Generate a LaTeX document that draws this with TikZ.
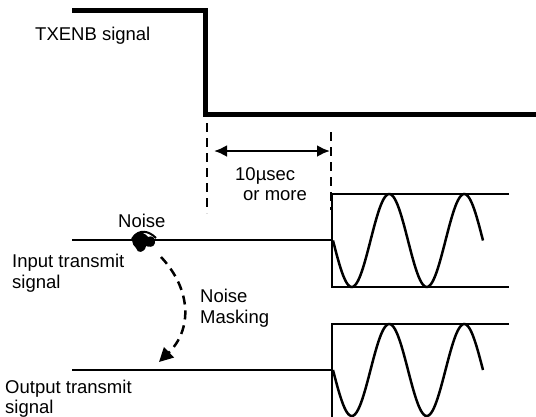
\documentclass[tikz,border=0pt]{standalone}
\usepackage{fontspec}
\setmainfont{Liberation Sans}
\usetikzlibrary{arrows.meta}
\begin{document}
\begin{tikzpicture}[x=1pt,y=-1pt,
  lbl/.style={anchor=base west,inner sep=0pt,font=\fontsize{18.5}{21}\selectfont},
  thin/.style={line width=2.5pt},
  thick/.style={line width=5pt},
  dashv/.style={line width=2.5pt,dash pattern=on 9pt off 6pt},
  wave/.style={line width=2.5pt}]
\useasboundingbox (0,0) rectangle (536,416);
% TXENB signal
\coordinate (t0) at (72,10);
\coordinate (t1) at (205,10);
\coordinate (t2) at (205,114.5);
\coordinate (t3) at (540,114.5);
\draw[thick,line join=miter] (t0) -- (t1) -- (t2) -- (t3);
\node[lbl] (txenb) at (35,40) {TXENB signal};
% dashed markers and interval arrow
\coordinate (d1a) at (207,123);
\coordinate (d1b) at (207,213);
\coordinate (d2a) at (331,132);
\coordinate (d2b) at (331,210);
\draw[dashv] (d1a) -- (d1b);
\draw[dashv] (d2a) -- (d2b);
\coordinate (a1) at (214,151);
\coordinate (a2) at (330,151);
\draw[line width=2.5pt,{Latex[length=13pt,width=12pt]}-{Latex[length=13pt,width=12pt]}] (a1) -- (a2);
\node[lbl] (t10) at (235,180) {10µsec};
\node[lbl] (tmore) at (243,200) {or more};
% input transmit signal
\coordinate (i0) at (72,240);
\coordinate (i1) at (332,240);
\draw[thin] (i0) -- (i1);
\coordinate (ib1) at (332,194);
\coordinate (ib2) at (332,287);
\coordinate (it) at (509,194);
\coordinate (ib) at (509,287);
\draw[thin] (it) -- (ib1) -- (ib2) -- (ib);
\draw[wave] plot[domain=0:150,samples=120,smooth] ({333+\x},{240.5+46.5*sin(\x*4.8)});
\node[lbl] (noise) at (118,227) {Noise};
\node[lbl] (inp1) at (12,267) {Input transmit};
\node[lbl] (inp2) at (12,288) {signal};
% noise scribble
\coordinate (nz) at (143,242);
\fill ([shift={(-8,-8)}]nz) .. controls ([shift={(-3,-12)}]nz) and ([shift={(3,-8)}]nz) .. ([shift={(5,-5)}]nz)
  .. controls ([shift={(9,-7)}]nz) and ([shift={(13,-4)}]nz) .. ([shift={(12,1)}]nz)
  .. controls ([shift={(11,6)}]nz) and ([shift={(5,5)}]nz) .. ([shift={(3,4)}]nz)
  .. controls ([shift={(2,11)}]nz) and ([shift={(-6,12)}]nz) .. ([shift={(-7,6)}]nz)
  .. controls ([shift={(-12,2)}]nz) and ([shift={(-12,-5)}]nz) .. ([shift={(-8,-8)}]nz);
\draw[line width=2pt] ([shift={(-11,-3)}]nz) .. controls ([shift={(-4,-14)}]nz) and ([shift={(6,-11)}]nz) .. ([shift={(13,-4)}]nz);
% noise masking arrow
\coordinate (m0) at (161,257);
\coordinate (m1) at (159,362);
\draw[line width=2.5pt,dash pattern=on 9pt off 6pt,-{Triangle[length=14pt,width=14pt]}] (m0) .. controls (192,290) and (192,330) .. (m1);
\node[lbl] (nm1) at (200,302) {Noise};
\node[lbl] (nm2) at (200,323) {Masking};
% output transmit signal
\coordinate (o0) at (72,370);
\coordinate (o1) at (332,370);
\draw[thin] (o0) -- (o1);
\coordinate (ob1) at (332,324);
\coordinate (ob2) at (332,420);
\coordinate (ot) at (509,324);
\draw[thin] (ot) -- (ob1) -- (ob2);
\draw[wave] plot[domain=0:150,samples=120,smooth] ({333+\x},{370+46*sin(\x*4.8)});
\node[lbl] (out1) at (5,393) {Output transmit};
\node[lbl] (out2) at (5,413) {signal};
\end{tikzpicture}
\end{document}
